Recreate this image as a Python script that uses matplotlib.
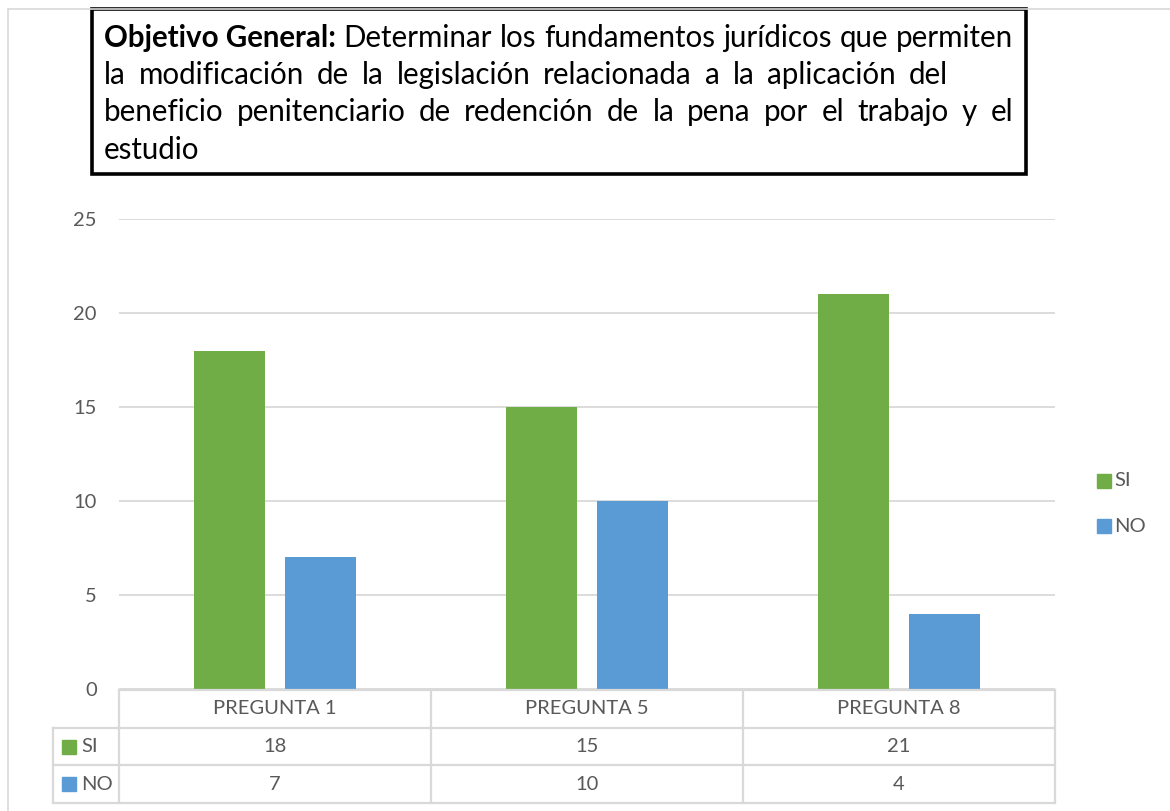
import matplotlib
matplotlib.use("Agg")
import matplotlib.pyplot as plt
import numpy as np
from matplotlib.patches import Rectangle
from matplotlib.lines import Line2D

# ---- data ----
categories = ["PREGUNTA 1", "PREGUNTA 5", "PREGUNTA 8"]
series_names = ["SI", "NO"]
si_values = [18, 15, 21]
no_values = [7, 10, 4]
y_ticks = [0, 5, 10, 15, 20, 25]
title_bold = "Objetivo General:"
title_lines = [
    "Determinar los fundamentos jurídicos que permiten",
    "la modificación de la legislación relacionada a la aplicación del",
    "beneficio penitenciario de redención de la pena por el trabajo y el",
    "estudio",
]

GREEN = "#70AD47"
BLUE = "#5B9BD5"
TXT = "#595959"
GRID = "#D9D9D9"
FONT = ["Lato", "DejaVu Sans"]
FS = 14.5

W, H = 1170, 811
fig = plt.figure(figsize=(W / 100, H / 100), dpi=100)
plt.rcParams["font.family"] = FONT


def fx(px):
    return px / W


def fy(py):
    return 1 - py / H


# outer chart border
fig.add_artist(Line2D([fx(8), fx(1170)], [fy(9), fy(9)], color=GRID, lw=1.2))
fig.add_artist(Line2D([fx(8), fx(8)], [fy(9), fy(811)], color=GRID, lw=1.2))

# ---- main axes ----
x0, x1 = 119, 1055
ytop, ybot = 219, 689
ax = fig.add_axes([fx(x0), fy(ybot), fx(x1 - x0), (ybot - ytop) / H])
x = np.arange(len(categories))
bw = 0.227
off = 0.146
ax.bar(x - off, si_values, bw, color=GREEN, zorder=3)
ax.bar(x + off, no_values, bw, color=BLUE, zorder=3)
ax.set_xlim(-0.5, len(categories) - 0.5)
ax.set_ylim(0, 25)
ax.set_yticks(y_ticks)
ax.set_yticklabels([str(v) for v in y_ticks], fontsize=FS, color=TXT)
ax.tick_params(axis="y", length=0, pad=16)
ax.set_xticks([])
for s in ax.spines.values():
    s.set_visible(False)
ax.grid(axis="y", color=GRID, lw=1.3, zorder=0)
ax.set_axisbelow(True)

# ---- data table ----
tl, tt, tb = 53, 690, 803
leg_w = (x0 - tl) / (x1 - x0) * len(categories)  # legend column width in category units
tax = fig.add_axes([fx(tl), fy(tb), fx(x1 - tl), (tb - tt) / H])
tax.set_xlim(-0.5 - leg_w, len(categories) - 0.5)
tax.set_ylim(3, 0)
tax.axis("off")
lkw = dict(color=GRID, lw=1.6, clip_on=False, solid_capstyle="projecting")
left = -0.5 - leg_w
right = len(categories) - 0.5
tax.plot([-0.5, right], [0, 0], **lkw)
for r in (1, 2, 3):
    tax.plot([left, right], [r, r], **lkw)
tax.plot([left, left], [1, 3], **lkw)
for c in range(len(categories) + 1):
    tax.plot([c - 0.5, c - 0.5], [0, 3], **lkw)
for i, cat in enumerate(categories):
    tax.text(i, 0.5, cat, ha="center", va="center", fontsize=FS, color=TXT)
    tax.text(i, 1.5, str(si_values[i]), ha="center", va="center", fontsize=FS, color=TXT)
    tax.text(i, 2.5, str(no_values[i]), ha="center", va="center", fontsize=FS, color=TXT)
for r, (name, col) in enumerate(zip(series_names, [GREEN, BLUE])):
    py = tt + 37.7 * (r + 1.5)
    fig.add_artist(Rectangle((fx(62), fy(py + 7)), fx(14), 14 / H, color=col))
    fig.text(fx(81), fy(py), name, ha="left", va="center", fontsize=FS, color=TXT)

# ---- right legend ----
for name, col, py in zip(series_names, [GREEN, BLUE], [481, 526]):
    fig.add_artist(Rectangle((fx(1097), fy(py + 7)), fx(14), 14 / H, color=col))
    fig.text(fx(1114), fy(py), name, ha="left", va="center", fontsize=FS, color=TXT)

# ---- title box ----
fig.add_artist(Rectangle((fx(92), fy(174)), fx(1026 - 92), (174 - 9) / H,
                         fill=False, ec="black", lw=2.6))

fig.canvas.draw()
renderer = fig.canvas.get_renderer()


def width_px(s, size, weight="normal"):
    t = fig.text(0, 0, s, fontsize=size, fontweight=weight)
    bb = t.get_window_extent(renderer)
    t.remove()
    return bb.width


# fit the font size so the first line spans the box
tx0, tx1 = 104, 1013
base = 10.0
w_line1 = width_px(title_bold + " ", base, "bold") + width_px(title_lines[0], base)
tfs = base * (tx1 - tx0) / w_line1

line_y = [38, 75, 112, 150]
targets = [tx1, 948, tx1, None]
for li, (line, py) in enumerate(zip(title_lines, line_y)):
    words = line.split(" ")
    start = tx0
    if li == 0:
        fig.text(fx(start), fy(py), title_bold, fontsize=tfs, fontweight="bold",
                 ha="left", va="center", color="black")
        start += width_px(title_bold + " ", tfs, "bold")
    ws = [width_px(w, tfs) for w in words]
    space = width_px("a b", tfs) - width_px("ab", tfs)
    if targets[li] is not None and len(words) > 1:
        space = (targets[li] - start - sum(ws)) / (len(words) - 1)
    cx = start
    for w, wd in zip(words, ws):
        fig.text(fx(cx), fy(py), w, fontsize=tfs, ha="left", va="center", color="black")
        cx += wd + space

fig.savefig("out.png", dpi=100)
